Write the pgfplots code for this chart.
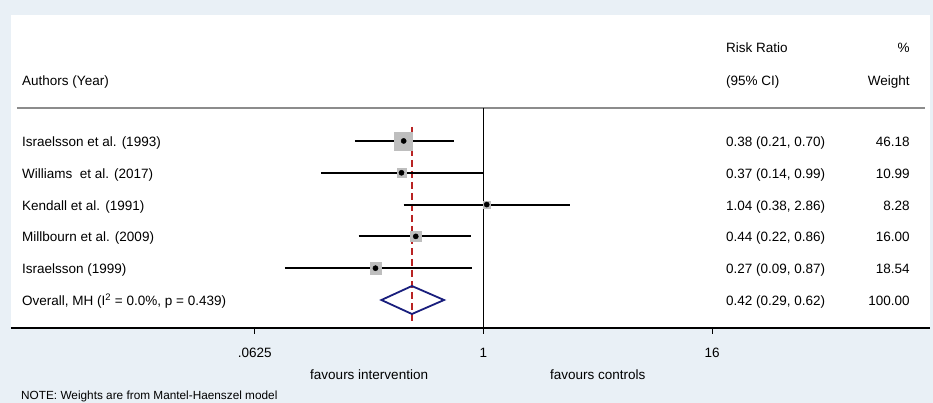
\documentclass[border=0pt]{standalone}
\usepackage{fontspec}
\setmainfont{Liberation Sans}
\usepackage{pgfplots}
\usepackage{pgfplotstable}
\pgfplotsset{compat=1.18}

\definecolor{bgc}{RGB}{233,240,246}
\definecolor{boxgray}{RGB}{190,190,190}
\definecolor{navy}{RGB}{25,30,125}
\definecolor{dred}{RGB}{185,35,35}

% y = plotting row (6 = top study, 1 = overall)
\pgfplotstableread{
y rr lo hi w
6 0.38 0.21 0.70 46.18
5 0.37 0.14 0.99 10.99
4 1.04 0.38 2.86 8.28
3 0.44 0.22 0.86 16.00
2 0.27 0.09 0.87 18.54
}\studies

\newcommand{\at}[2]{({rel axis cs:#1,0}|-{axis cs:1,#2})}

\begin{document}
\begin{tikzpicture}[font=\fontsize{13.5}{16}\selectfont,
  txt/.style={inner sep=0pt, text height=0.73em, text depth=0.21em, yshift=-3pt}]
\useasboundingbox (0,0) rectangle (933pt,403pt);
\fill[bgc] (0,0) rectangle (933pt,403pt);
\fill[white] (11pt,75pt) rectangle (930pt,388pt);
\begin{axis}[
  at={(11pt,75pt)}, anchor=south west,
  width=919pt, height=313pt, scale only axis,
  xmode=log, log basis x=2,
  xmin=0.003253, xmax=224.4,
  ymin=0.12, ymax=9.96,
  axis x line*=bottom, axis y line=none,
  axis line style={line width=1.6pt},
  xtick={0.0625,1,16}, xticklabels={.0625,1,16},
  tick align=outside, major tick length=6pt,
  tick style={black, line width=1.2pt},
  xticklabel style={txt, yshift=-13pt},
  clip=false,
]
% header rule and null line
\draw[color={rgb,255:red,140;green,140;blue,140}, line width=1.3pt]
  \at{0.0065}{7.04} -- \at{0.995}{7.04};
\draw[black, line width=1.3pt] (axis cs:1,7.04) -- (axis cs:1,0.12);
% overall effect line
\draw[dred, line width=1.2pt, dash pattern=on 7pt off 4pt]
  (axis cs:0.42,6.44) -- (axis cs:0.42,0.3);

% weight boxes
\addplot[only marks, mark=square*, scatter,
  scatter/use mapped color={draw=boxgray, fill=boxgray},
  visualization depends on={1.325*sqrt(\thisrow{w}) \as \msize},
  scatter/@pre marker code/.append style={/tikz/mark size=\msize}]
  table[x=rr, y=y] {\studies};

% confidence intervals
\addplot[black, line width=2pt] coordinates {(0.21,6) (0.70,6)};
\addplot[black, line width=2pt] coordinates {(0.14,5) (0.99,5)};
\addplot[black, line width=2pt] coordinates {(0.38,4) (2.86,4)};
\addplot[black, line width=2pt] coordinates {(0.22,3) (0.86,3)};
\addplot[black, line width=2pt] coordinates {(0.09,2) (0.87,2)};

% point estimates
\addplot[only marks, mark=*, mark size=2.6pt, black] table[x=rr, y=y] {\studies};

% overall diamond
\addplot[navy, line width=1.8pt, line join=miter]
  coordinates {(0.29,1) (0.42,1.44) (0.62,1) (0.42,0.56) (0.29,1)} -- cycle;

% header text
\node[txt, anchor=west] at \at{0.778}{8.96} {Risk Ratio};
\node[txt, anchor=east] at \at{0.978}{8.96} {\%};
\node[txt, anchor=west] at \at{0.012}{7.92} {Authors (Year)};
\node[txt, anchor=west] at \at{0.778}{7.92} {(95\% CI)};
\node[txt, anchor=east] at \at{0.978}{7.92} {Weight};

% study rows
\node[txt, anchor=west] at \at{0.012}{6} {Israelsson et al. (1993)};
\node[txt, anchor=west] at \at{0.012}{5} {Williams\ \ et al. (2017)};
\node[txt, anchor=west] at \at{0.012}{4} {Kendall et al. (1991)};
\node[txt, anchor=west] at \at{0.012}{3} {Millbourn et al. (2009)};
\node[txt, anchor=west] at \at{0.012}{2} {Israelsson (1999)};
\node[txt, anchor=west] at \at{0.012}{1} {Overall, MH (I\textsuperscript{2} = 0.0\%, p = 0.439)};

\node[txt, anchor=west] at \at{0.778}{6} {0.38 (0.21, 0.70)};
\node[txt, anchor=west] at \at{0.778}{5} {0.37 (0.14, 0.99)};
\node[txt, anchor=west] at \at{0.778}{4} {1.04 (0.38, 2.86)};
\node[txt, anchor=west] at \at{0.778}{3} {0.44 (0.22, 0.86)};
\node[txt, anchor=west] at \at{0.778}{2} {0.27 (0.09, 0.87)};
\node[txt, anchor=west] at \at{0.778}{1} {0.42 (0.29, 0.62)};

\node[txt, anchor=east] at \at{0.978}{6} {46.18};
\node[txt, anchor=east] at \at{0.978}{5} {10.99};
\node[txt, anchor=east] at \at{0.978}{4} {8.28};
\node[txt, anchor=east] at \at{0.978}{3} {16.00};
\node[txt, anchor=east] at \at{0.978}{2} {18.54};
\node[txt, anchor=east] at \at{0.978}{1} {100.00};

% bottom annotations
\node[txt] at (axis cs:0.25,-1.33) {favours intervention};
\node[txt] at (axis cs:4,-1.33) {favours controls};
\node[txt, anchor=west, font=\fontsize{11.8}{14}\selectfont] at \at{0.0109}{-1.955}
  {NOTE: Weights are from Mantel-Haenszel model};
\end{axis}
\end{tikzpicture}
\end{document}
